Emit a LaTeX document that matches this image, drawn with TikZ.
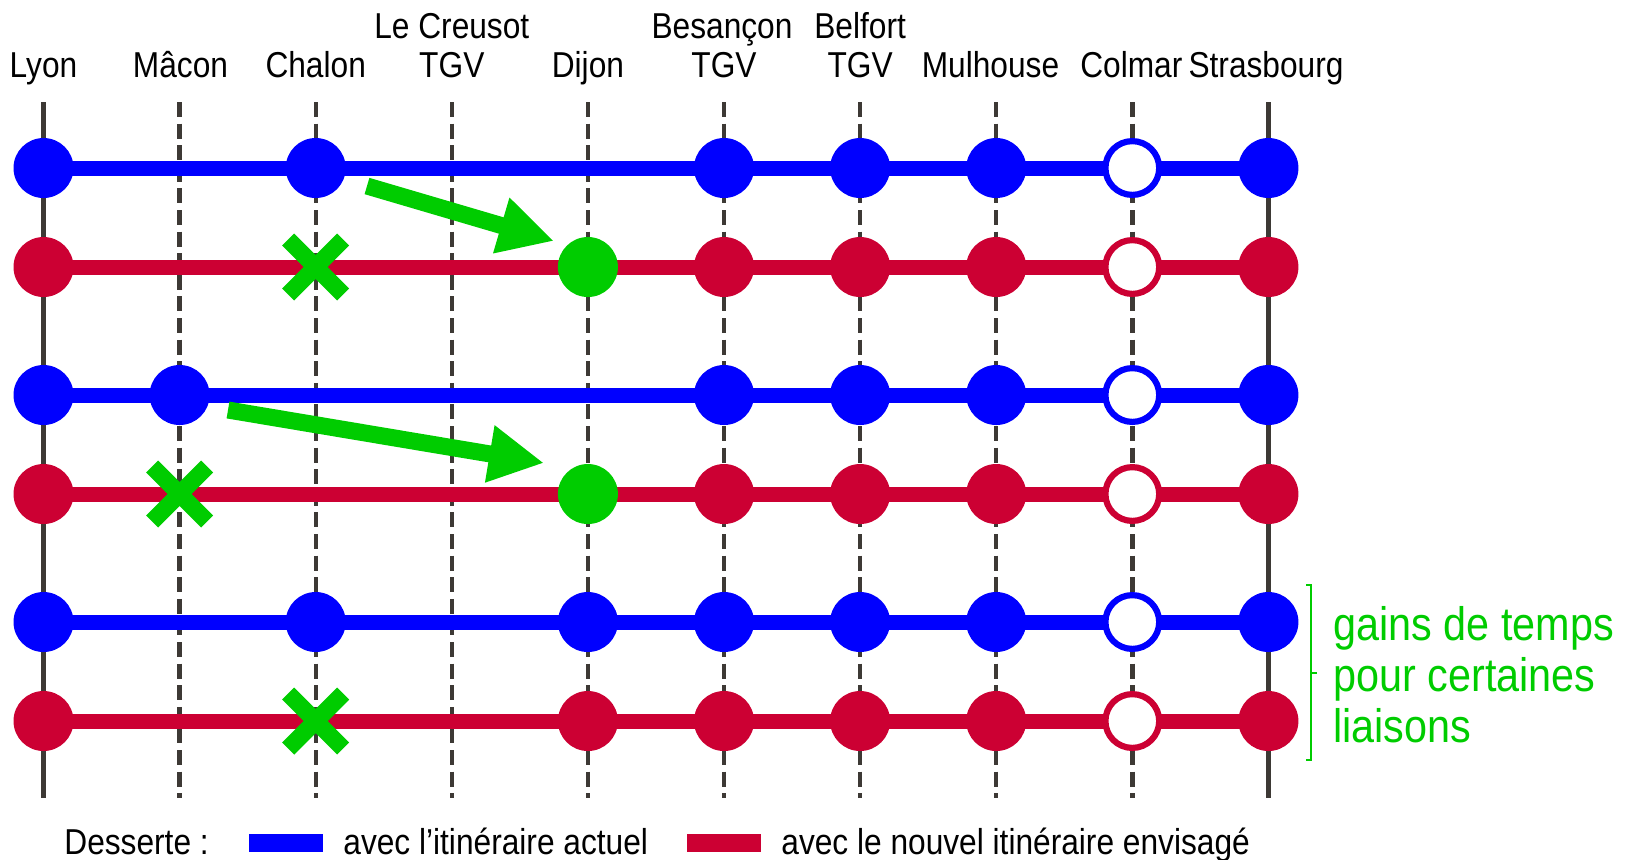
\documentclass[tikz,border=0pt]{standalone}
\usepackage{fontspec}
\setmainfont{Liberation Sans}[FakeStretch=0.88]
\usetikzlibrary{arrows.meta,shapes.misc}
\definecolor{lineblue}{RGB}{0,0,255}
\definecolor{linered}{RGB}{204,0,51}
\definecolor{gaingreen}{RGB}{0,204,0}
\definecolor{railgray}{RGB}{61,57,53}

\tikzset{
  station/.style={anchor=base, inner sep=0pt, font=\fontsize{18pt}{20pt}\selectfont},
  rail/.style={railgray, line width=2.5pt},
  railside/.style={railgray, line width=2.2pt, dash pattern=on 7.5pt off 3.3pt},
  bluetrack/.style={lineblue, line width=7.5pt},
  redtrack/.style={linered, line width=7.5pt},
  halt/.style={circle, inner sep=0pt, minimum size=30pt},
  bluehalt/.style={halt, fill=lineblue},
  redhalt/.style={halt, fill=linered},
  greenhalt/.style={halt, fill=gaingreen},
  bluepass/.style={halt, draw=lineblue, fill=white, line width=3.1pt, minimum size=26.9pt},
  redpass/.style={halt, draw=linered, fill=white, line width=3.1pt, minimum size=26.9pt},
  dropped/.style={cross out, draw=gaingreen, line width=8.5pt, inner sep=0pt, outer sep=0pt, minimum size=27.5pt},
  movearrow/.style={gaingreen, line width=8.5pt, -{Triangle[length=27.5pt,width=27pt]}},
  keytext/.style={anchor=base west, inner sep=0pt, font=\fontsize{18pt}{20pt}\selectfont}
}

\begin{document}
\begin{tikzpicture}[x=0.5pt,y=-0.5pt]
    \useasboundingbox (0,0) rectangle (1625,859);

    % Station names
    \node[station] (lyon) at (43.5,77) {Lyon};
    \node[station] (macon) at (180.5,77) {Mâcon};
    \node[station] (chalon) at (315.7,77) {Chalon};
    \node[station] (creusot) at (451.8,77) {TGV};
    \node[station] (creusot-up) at (451.8,38) {Le Creusot};
    \node[station] (dijon) at (587.9,77) {Dijon};
    \node[station] (besancon) at (724,77) {TGV};
    \node[station] (besancon-up) at (722,38) {Besançon};
    \node[station] (belfort) at (860.1,77) {TGV};
    \node[station] (belfort-up) at (860.1,38) {Belfort};
    \node[station] (mulhouse) at (990.5,77) {Mulhouse};
    \node[station] (colmar) at (1131.3,77) {Colmar};
    \node[station] (strasbourg) at (1266,77) {Strasbourg};

    % Rails
    \foreach \i in {0,...,9} {
        \coordinate (top\i) at ({43.5+136.1*\i},102);
        \coordinate (bot\i) at ({43.5+136.1*\i},798);
    }
    \draw[rail] (top0) -- (bot0);
    \draw[rail] (top9) -- (bot9);
    \foreach \i in {1,...,8}
        \draw[railside] (top\i) -- (bot\i);

    % Stops of each service
    \foreach \r/\y in {1/168,2/267,3/395,4/494,5/622,6/721}
        \foreach \i in {0,...,9}
            \coordinate (p\r-\i) at ({43.5+136.1*\i},\y);

    % Service 1
    \draw[bluetrack] (p1-0) -- (p1-9);
    \foreach \i in {0,2,5,6,7,9}
        \node[bluehalt] (h1-\i) at (p1-\i) {};
    \node[bluepass] (h1-8) at (p1-8) {};

    \draw[redtrack] (p2-0) -- (p2-9);
    \foreach \i in {0,5,6,7,9}
        \node[redhalt] (h2-\i) at (p2-\i) {};
    \node[redpass] (h2-8) at (p2-8) {};
    \node[greenhalt] (h2-4) at (p2-4) {};
    \node[dropped] (x2-2) at (p2-2) {};

    % Service 2
    \draw[bluetrack] (p3-0) -- (p3-9);
    \foreach \i in {0,1,5,6,7,9}
        \node[bluehalt] (h3-\i) at (p3-\i) {};
    \node[bluepass] (h3-8) at (p3-8) {};

    \draw[redtrack] (p4-0) -- (p4-9);
    \foreach \i in {0,5,6,7,9}
        \node[redhalt] (h4-\i) at (p4-\i) {};
    \node[redpass] (h4-8) at (p4-8) {};
    \node[greenhalt] (h4-4) at (p4-4) {};
    \node[dropped] (x4-1) at (p4-1) {};

    % Service 3
    \draw[bluetrack] (p5-0) -- (p5-9);
    \foreach \i in {0,2,4,5,6,7,9}
        \node[bluehalt] (h5-\i) at (p5-\i) {};
    \node[bluepass] (h5-8) at (p5-8) {};

    \draw[redtrack] (p6-0) -- (p6-9);
    \foreach \i in {0,4,5,6,7,9}
        \node[redhalt] (h6-\i) at (p6-\i) {};
    \node[redpass] (h6-8) at (p6-8) {};
    \node[dropped] (x6-2) at (p6-2) {};

    % Stop moved to Dijon
    \coordinate (moveA-from) at (367,186);
    \coordinate (moveA-to) at (554,241);
    \coordinate (moveB-from) at (228,410);
    \coordinate (moveB-to) at (544,463);
    \draw[movearrow] (moveA-from) -- (moveA-to);
    \draw[movearrow] (moveB-from) -- (moveB-to);

    % Bracket and comment
    \draw[gaingreen, line width=0.9pt] (1306,585) -- (1311,585) -- (1311,760) -- (1306,760);
    \draw[gaingreen, line width=0.9pt] (1311,673) -- (1317,673);
    \node[gaingreen, anchor=base west, inner sep=0pt, font=\fontsize{23.5pt}{25pt}\selectfont] (gain1) at (1333,640) {gains de temps};
    \node[gaingreen, anchor=base west, inner sep=0pt, font=\fontsize{23.5pt}{25pt}\selectfont] (gain2) at (1333,691) {pour certaines};
    \node[gaingreen, anchor=base west, inner sep=0pt, font=\fontsize{23.5pt}{25pt}\selectfont] (gain3) at (1333,742) {liaisons};

    % Key
    \node[keytext] (desserte) at (64,854) {Desserte :};
    \node[fill=lineblue, inner sep=0pt, minimum width=37pt, minimum height=9pt] (keyblue) at (286,843) {};
    \node[keytext] (keyblue-text) at (343,854) {avec l’itinéraire actuel};
    \node[fill=linered, inner sep=0pt, minimum width=37pt, minimum height=9pt] (keyred) at (724,843) {};
    \node[keytext] (keyred-text) at (781,854) {avec le nouvel itinéraire envisagé};
\end{tikzpicture}
\end{document}
